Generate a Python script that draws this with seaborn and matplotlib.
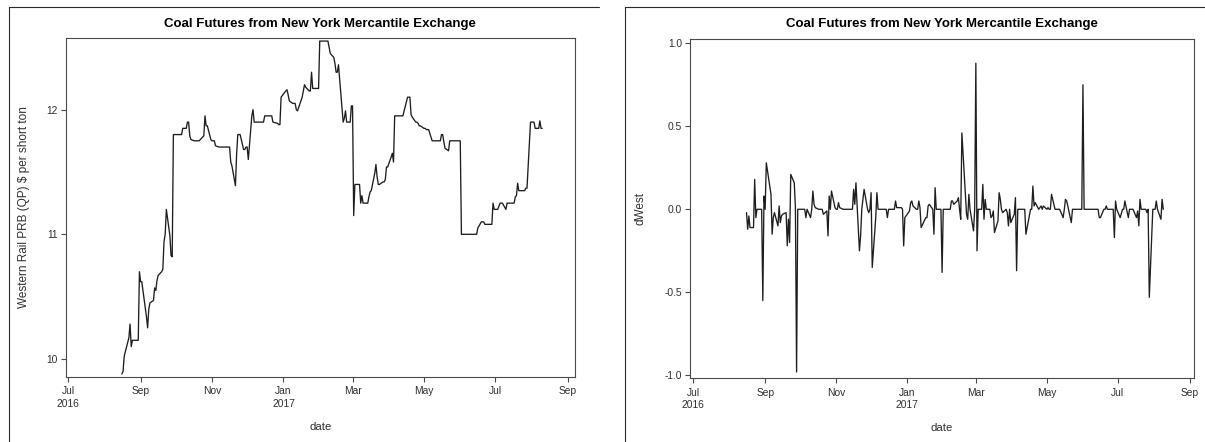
import numpy as np
import pandas as pd
import matplotlib
matplotlib.use("Agg")
import matplotlib.pyplot as plt
import matplotlib.dates as mdates
from matplotlib.lines import Line2D
import seaborn as sns

# Daily settlement, Western Rail PRB (QP) coal futures, $ per short ton, by month
west_2016_08 = [9.88, 9.90, 10.02, 10.06, 10.17, 10.28, 10.10, 10.15, 10.15, 10.15, 10.15, 10.70]
west_2016_09 = [10.62, 10.62, 10.34, 10.25, 10.40, 10.45, 10.47, 10.57, 10.55, 10.63, 10.67,
                10.70, 10.72, 10.94, 11.00, 11.20, 10.99, 10.83, 10.82, 11.80, 11.80]
west_2016_10 = [11.80, 11.80, 11.80, 11.80, 11.85, 11.85, 11.90, 11.90, 11.79, 11.76, 11.75,
                11.75, 11.75, 11.75, 11.75, 11.78, 11.79, 11.95, 11.87, 11.87, 11.76]
west_2016_11 = [11.75, 11.75, 11.75, 11.71, 11.70, 11.70, 11.70, 11.70, 11.70, 11.70, 11.70,
                11.70, 11.58, 11.55, 11.39, 11.64, 11.80, 11.80, 11.68, 11.68, 11.70]
west_2016_12 = [11.70, 11.60, 11.95, 12.00, 11.90, 11.90, 11.90, 11.90, 11.90, 11.90, 11.90,
                11.95, 11.95, 11.95, 11.95, 11.95, 11.90, 11.89, 11.88, 11.88, 12.10]
west_2017_01 = [12.15, 12.16, 12.12, 12.07, 12.05, 12.05, 12.05, 12.00, 11.99, 12.10, 12.15,
                12.20, 12.18, 12.15, 12.15, 12.30, 12.17, 12.17, 12.17, 12.17]
west_2017_02 = [12.55, 12.55, 12.55, 12.55, 12.55, 12.55, 12.50, 12.45, 12.42, 12.37, 12.30,
                12.30, 12.36, 11.90, 11.93, 11.99, 11.90, 11.90, 12.03]
west_2017_03 = [12.03, 11.15, 11.40, 11.40, 11.40, 11.25, 11.31, 11.25, 11.25, 11.25, 11.30,
                11.34, 11.35, 11.49, 11.56, 11.46, 11.40, 11.40, 11.42, 11.42, 11.44, 11.54, 11.54]
west_2017_04 = [11.62, 11.65, 11.58, 11.95, 11.95, 11.95, 11.95, 11.95, 11.95, 12.10, 12.10,
                12.10, 11.96, 11.94, 11.90, 11.90, 11.89, 11.87, 11.87]
west_2017_05 = [11.85, 11.85, 11.84, 11.84, 11.84, 11.75, 11.75, 11.75, 11.75, 11.75, 11.75,
                11.80, 11.80, 11.74, 11.69, 11.67, 11.75, 11.75, 11.75, 11.75, 11.75, 11.75]
west_2017_06 = [11.75, 11.00, 11.00, 11.00, 11.00, 11.00, 11.00, 11.00, 11.00, 11.00, 11.00,
                11.05, 11.10, 11.10, 11.10, 11.08, 11.08, 11.08, 11.08, 11.08, 11.25, 11.20]
west_2017_07 = [11.20, 11.25, 11.25, 11.25, 11.20, 11.25, 11.25, 11.25, 11.25, 11.25, 11.30,
                11.31, 11.41, 11.35, 11.35, 11.35, 11.35, 11.37, 11.37, 11.90]
west_2017_08 = [11.90, 11.90, 11.90, 11.85, 11.85, 11.91, 11.85, 11.85]

exchange_holidays = ["2016-09-05", "2016-11-24", "2016-12-26", "2017-01-02", "2017-01-16",
                     "2017-02-20", "2017-04-14", "2017-05-29", "2017-07-04"]

title_text = "Coal Futures from New York Mercantile Exchange"
month_ticks = [1, 3, 5, 7, 9, 11]

west = np.array(west_2016_08 + west_2016_09 + west_2016_10 + west_2016_11 + west_2016_12
                + west_2017_01 + west_2017_02 + west_2017_03 + west_2017_04 + west_2017_05
                + west_2017_06 + west_2017_07 + west_2017_08)
trade_dates = pd.bdate_range("2016-08-16", "2017-08-10", freq="C", holidays=exchange_holidays)
assert len(trade_dates) == len(west)

# dWest: this day's close minus the next day's close
dwest = np.round(west[:-1] - west[1:], 2)

prices = pd.DataFrame({"date": trade_dates, "West": west})
diffs = pd.DataFrame({"date": trade_dates[:-1], "dWest": dwest})

sns.set_style("ticks")
plt.rcParams["font.family"] = ["Liberation Sans", "DejaVu Sans"]

W, H = 1205, 442
fig = plt.figure(figsize=(W / 100, H / 100), dpi=100)


def rect(x0, y0, x1, y1):
    return [x0 / W, 1 - y1 / H, (x1 - x0) / W, (y1 - y0) / H]


ax1 = fig.add_axes(rect(65.7, 37.7, 575.0, 376.7))
ax2 = fig.add_axes(rect(690.3, 39.3, 1194.0, 378.3))

line_color = "#1e1e1e"
frame_color = "#4a4a4a"
text_color = "#303030"

sns.lineplot(data=prices, x="date", y="West", ax=ax1, color=line_color, linewidth=0.95)
sns.lineplot(data=diffs, x="date", y="dWest", ax=ax2, color=line_color, linewidth=0.95)


def month_label(x, pos):
    d = mdates.num2date(x)
    lab = d.strftime("%b")
    if d.month == 1 or (d.year == 2016 and d.month == 7):
        lab += "\n" + str(d.year)
    return lab


origin = pd.Timestamp("2016-07-01")
ax1.set_xlim(origin - pd.Timedelta(days=1.96), origin + pd.Timedelta(days=433.0))
ax2.set_xlim(origin - pd.Timedelta(days=2.3), origin + pd.Timedelta(days=430.4))

ax1.set_ylim(9.858, 12.577)
ax1.set_yticks([10, 11, 12])
ax1.set_yticklabels(["10", "11", "12"])
ax2.set_ylim(-1.018, 1.024)
ax2.set_yticks([-1.0, -0.5, 0.0, 0.5, 1.0])
ax2.set_yticklabels(["-1.0", "-0.5", "0.0", "0.5", "1.0"])

for ax, ylab, ylab_x, title_y in [
    (ax1, "Western Rail PRB (QP) $ per short ton", -0.081, 1.0404),
    (ax2, "dWest", -0.098, 1.0451),
]:
    ax.xaxis.set_major_locator(mdates.MonthLocator(bymonth=month_ticks))
    ax.xaxis.set_major_formatter(plt.FuncFormatter(month_label))
    for side in ["left", "right", "top", "bottom"]:
        ax.spines[side].set_visible(True)
        ax.spines[side].set_color(frame_color)
        ax.spines[side].set_linewidth(0.8)
    ax.tick_params(axis="both", direction="out", length=3.4, width=0.8,
                   color=frame_color, labelsize=7.4, labelcolor=text_color)
    ax.tick_params(axis="x", pad=3.5)
    ax.tick_params(axis="y", pad=2.5)
    for lab in ax.get_xticklabels():
        lab.set_linespacing(1.3)
    ax.set_xlabel("date", fontsize=8.2, color=text_color)
    ax.xaxis.set_label_coords(0.5, -0.148)
    ax.xaxis.label.set_va("center")
    ax.set_ylabel(ylab, fontsize=8.5, color=text_color)
    ax.yaxis.set_label_coords(ylab_x, 0.5)
    ax.yaxis.label.set_va("center")
    ax.text(0.5, title_y, title_text, transform=ax.transAxes, ha="center", va="center",
            fontsize=9.5, fontweight="bold", color="black")
    ax.grid(False)

# panel borders
border = dict(color="#2a2a2a", linewidth=0.8, transform=fig.transFigure)
fig.add_artist(Line2D([8.5 / W, 8.5 / W], [0, 1 - 6.5 / H], **border))
fig.add_artist(Line2D([8.5 / W, 598.5 / W], [1 - 6.5 / H, 1 - 6.5 / H], **border))
fig.add_artist(Line2D([624.5 / W, 624.5 / W], [0, 1 - 6.5 / H], **border))
fig.add_artist(Line2D([624.5 / W, 1.0], [1 - 6.5 / H, 1 - 6.5 / H], **border))

fig.savefig("out.png", dpi=100)
